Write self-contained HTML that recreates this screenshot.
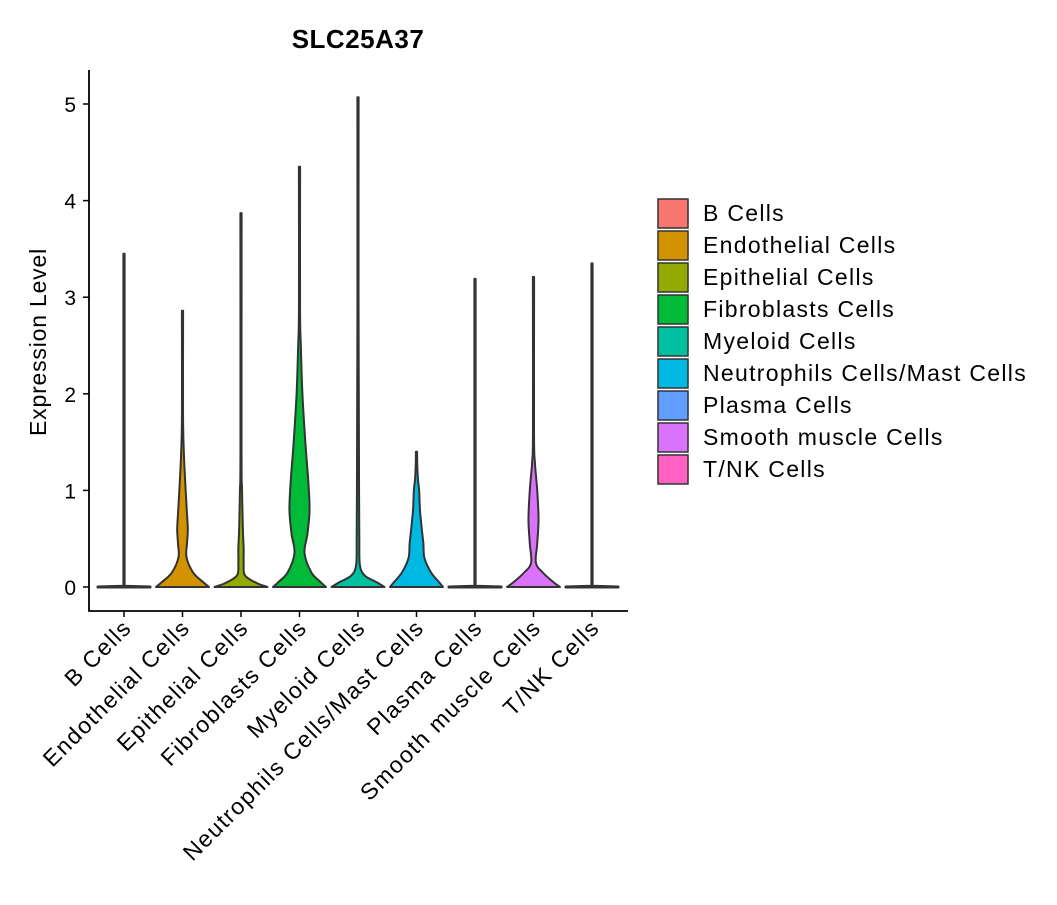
<!DOCTYPE html>
<html><head><meta charset="utf-8"><style>
body{margin:0;background:#fff;}
svg text{font-family:"Liberation Sans","DejaVu Sans",sans-serif;fill:#000;}
</style></head><body>
<svg width="1057" height="900">
<text x="358" y="48" font-size="26" font-weight="bold" text-anchor="middle" letter-spacing="0.5">SLC25A37</text>
<text transform="translate(46,342) rotate(-90)" font-size="23" letter-spacing="0.8" text-anchor="middle">Expression Level</text>
<g id="plot"></g>
<g id="legend"></g>
</svg>
<script>
const categories=["B Cells","Endothelial Cells","Epithelial Cells","Fibroblasts Cells","Myeloid Cells","Neutrophils Cells/Mast Cells","Plasma Cells","Smooth muscle Cells","T/NK Cells"];
const colors=["#F8766D","#D39200","#93AA00","#00BA38","#00C19F","#00B9E3","#619CFF","#DB72FB","#FF61C3"];
const maxValues=[3.45,2.86,3.87,4.35,5.07,1.40,3.19,3.21,3.35];
// density profiles: levels and relative half-widths
const profLevels=[
 [0,0.02],
 [0,0.05,0.15,0.31,0.45,0.6,0.8,1.1,1.4,1.8],
 [0,0.04,0.12,0.25,0.4,0.6,1.0,1.4],
 [0,0.05,0.15,0.35,0.55,0.8,1.1,1.5,2.0,2.5,2.9],
 [0,0.05,0.12,0.23,0.5,1.0,2.0,3.0],
 [0,0.05,0.15,0.3,0.45,0.6,0.8,1.0,1.1,1.25],
 [0,0.02],
 [0,0.05,0.15,0.25,0.45,0.7,1.0,1.3,1.6],
 [0,0.02]];
const profWidths=[
 [1,0.02],
 [1,0.78,0.4,0.15,0.17,0.2,0.16,0.1,0.05,0.02],
 [1,0.6,0.15,0.1,0.1,0.07,0.04,0.02],
 [1,0.8,0.45,0.19,0.3,0.38,0.33,0.22,0.11,0.05,0.02],
 [1,0.7,0.25,0.07,0.05,0.04,0.03,0.02],
 [1,0.85,0.55,0.3,0.26,0.2,0.13,0.1,0.06,0.03],
 [1,0.02],
 [1,0.75,0.35,0.09,0.14,0.19,0.14,0.05,0.02],
 [1,0.02]];
const yTicks=[0,1,2,3,4,5];
const X0=89,X1=628,YT=70,YB=611;
const xs=i=>124+58.5*i;
const ys=v=>587-v*96.6;
const HW=26.5;
const NS="http://www.w3.org/2000/svg";
const plot=document.getElementById('plot');
function mk(t,a,p){const e=document.createElementNS(NS,t);for(const k in a)e.setAttribute(k,a[k]);(p||plot).appendChild(e);return e;}
function spline(pts){let d="M"+pts[0][0]+","+pts[0][1];for(let i=0;i<pts.length-1;i++){const p0=pts[Math.max(0,i-1)],p1=pts[i],p2=pts[i+1],p3=pts[Math.min(pts.length-1,i+2)];const c1=[p1[0]+(p2[0]-p0[0])/6,p1[1]+(p2[1]-p0[1])/6],c2=[p2[0]-(p3[0]-p1[0])/6,p2[1]-(p3[1]-p1[1])/6];d+=` C${c1[0]},${c1[1]} ${c2[0]},${c2[1]} ${p2[0]},${p2[1]}`;}return d;}
categories.forEach((c,i)=>{
 const cx=xs(i),L=profLevels[i],W=profWidths[i];
 let d;
 if(L.length<=2){
  const y0=ys(0),yt=ys(maxValues[i]);
  d=`M${cx-HW},${y0+0.5} L${cx+HW},${y0+0.5} L${cx+HW},${y0-0.5} L${cx+0.6},${y0-1.2} L${cx+0.6},${yt} L${cx-0.6},${yt} L${cx-0.6},${y0-1.2} L${cx-HW},${y0-0.5} Z`;
 } else {
  const right=L.map((v,k)=>[cx+W[k]*HW,ys(v)]);
  right.push([cx+0.6,ys(maxValues[i])]);
  const left=L.map((v,k)=>[cx-W[k]*HW,ys(v)]);left.push([cx-0.6,ys(maxValues[i])]);
  const rd=spline(right), ld=spline(left.slice().reverse());
  d=rd+" L"+left[left.length-1][0]+","+left[left.length-1][1]+ld.replace(/^M[^ C]+/,"")+" Z";
 }
 const p=mk('path',{d:d,fill:colors[i],stroke:"#333",'stroke-width':2,'stroke-linejoin':'round'});
 
 
 const t=mk('line',{x1:cx,x2:cx,y1:YB,y2:YB+6,stroke:"#000",'stroke-width':1.5});
 
 
 const lb=mk('text',{transform:`translate(${cx+9},${YB+18}) rotate(-45)`,'font-size':23,'letter-spacing':1.5,'text-anchor':'end'});
 lb.textContent=c;
 
 
});
yTicks.forEach(v=>{
 const t=mk('line',{x1:X0-6,x2:X0,y1:ys(v),y2:ys(v),stroke:"#000",'stroke-width':1.5});
 
 
 const lb=mk('text',{x:X0-13,y:ys(v)+8,'font-size':21,'text-anchor':'end'});
 lb.textContent=v;
 
 
});
const ax=mk('path',{d:`M${X0},${YT} V${YB} H${X1}`,fill:'none',stroke:'#000','stroke-width':1.8});


const lg=document.getElementById('legend');
categories.forEach((c,i)=>{
 const y=199+32*i;
 const r=mk('rect',{x:658,y:y,width:30,height:29,fill:colors[i],stroke:'#333','stroke-width':1.5},lg);
 
 
 const t=mk('text',{x:703,y:y+22,'font-size':23,'letter-spacing':1.3},lg);
 t.textContent=c;
 
 
});
</script>
</body></html>
